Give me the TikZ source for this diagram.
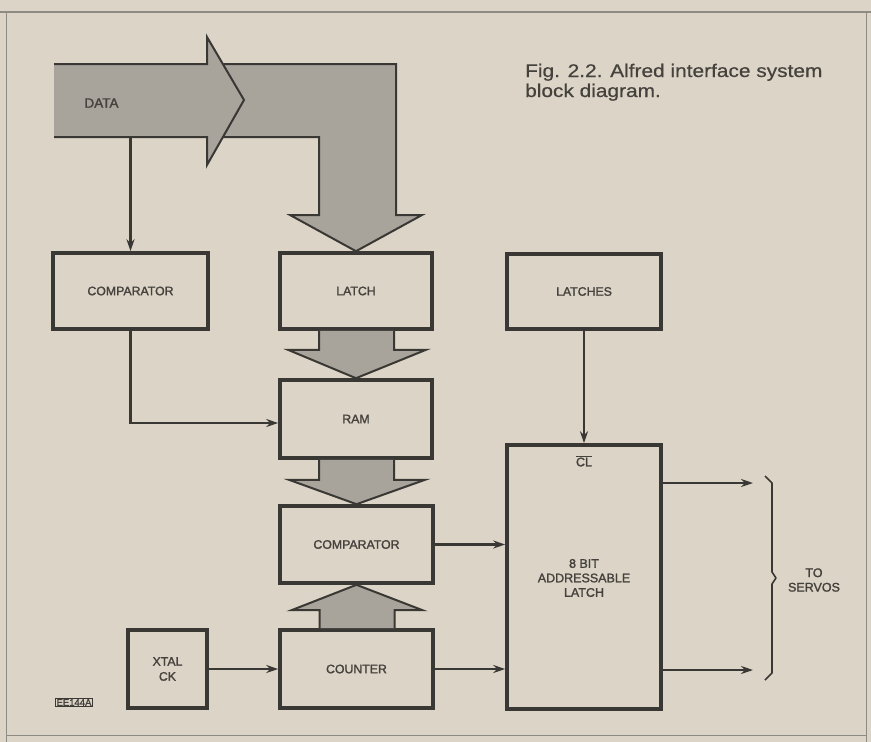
\documentclass[tikz,border=0pt]{standalone}
\usepackage{fontspec}
\setmainfont{Liberation Sans}
\newfontfamily\capfont[FakeStretch=1.14,FakeBold=0.6]{Liberation Sans}
\newfontfamily\boxfont[FakeBold=1.6]{Liberation Sans}
\usetikzlibrary{arrows.meta,calc}
\definecolor{paper}{HTML}{DCD4C6}
\definecolor{ink}{HTML}{3A3835}
\definecolor{txt}{HTML}{45423E}
\definecolor{fatgray}{HTML}{A8A39B}
\definecolor{frame}{HTML}{8E8A84}
\begin{document}
\begin{tikzpicture}[x=1pt,y=-1pt,
  blk/.style={draw=ink,line width=3.6pt,inner sep=0pt,font=\boxfont\fontsize{12.3}{15}\selectfont,text=txt,align=center},
  conn/.style={draw=ink,line width=2.2pt,-{Stealth[length=12pt,width=8pt]}},
  fat/.style={fill=fatgray,draw=ink,line width=2pt,line join=miter},
  lbl/.style={font=\boxfont\fontsize{12.5}{14.5}\selectfont,text=txt,align=center}]
\fill[paper] (0,0) rectangle (871,742);
\useasboundingbox (0,0) rectangle (871,742);
\draw[frame,line width=1.3pt] (0,12) -- (871,12);
\draw[frame,line width=1pt] (6,12) -- (6,742);
\draw[frame,line width=0.8pt] (866,12) -- (866,742);
\draw[frame,line width=0.8pt] (6,735) -- (866,735);

% caption
\node[anchor=base west,align=left,inner sep=0pt,text=txt,font=\capfont\fontsize{18.3}{20}\selectfont] (cap) at (525,97) {Fig. 2.2. Alfred interface system\\block diagram.};

% blocks
\node[blk,minimum width=155pt,minimum height=76pt] (cmp1) at (130.5,291) {COMPARATOR};
\node[blk,minimum width=152pt,minimum height=76pt] (latch) at (356,291) {LATCH};
\node[blk,minimum width=154pt,minimum height=75pt] (latches) at (584,291.5) {LATCHES};
\node[blk,minimum width=152pt,minimum height=78pt] (ram) at (356,419) {RAM};
\node[blk,minimum width=153pt,minimum height=77pt] (cmp2) at (356.5,544.5) {COMPARATOR};
\node[blk,minimum width=153pt,minimum height=78pt] (counter) at (356.5,669) {COUNTER};
\node[blk,minimum width=79pt,minimum height=78pt] (xtal) at (167.5,669) {XTAL\\CK};
\node[blk,minimum width=154pt,minimum height=264pt] (abl) at (584,577) {};
\node[lbl] (ablt) at (584,578) {8 BIT\\ADDRESSABLE\\LATCH};
\node[lbl] (cl) at (584,461) {$\overline{\hbox{CL}}$};

% big DATA arrow
\fill[fatgray] (215,64) -- (396,64) -- (396,215) -- (422,215) -- (356,252) -- (290,215) -- (319,215) -- (319,137) -- (215,137) -- cycle;
\filldraw[fat] (54,64) -- (207,64) -- (207,37) -- (244,100) -- (207,165) -- (207,137) -- (54,137);
\draw[draw=ink,line width=2pt,line join=miter] (223,64) -- (396,64) -- (396,215) -- (422,215) -- (latch.north) -- (290,215) -- (319,215) -- (319,137) -- (223,137);
\node[lbl,font=\boxfont\fontsize{13.5}{14}\selectfont] (data) at (101.5,103) {DATA};
\coordinate (dsplit) at (130.5,137);

% fat arrows between blocks
\filldraw[fat] ($(latch.south)+(-37,0)$) -- ++(0,19) -- ++(-31,0) -- (ram.north) -- ($(latch.south)+(70,19)$) -- ++(-32,0) -- ++(0,-19);
\filldraw[fat] ($(ram.south)+(-37,0)$) -- ++(0,20) -- ++(-30,0) -- (cmp2.north) -- ($(ram.south)+(69,20)$) -- ++(-31,0) -- ++(0,-20);
\filldraw[fat] ($(counter.north)+(-37,0)$) -- ++(0,-18) -- ++(-28,0) -- (cmp2.south) -- ($(counter.north)+(66,-18)$) -- ++(-28,0) -- ++(0,18);

% connectors
\draw[conn] (dsplit) -- (cmp1.north);
\draw[conn] (cmp1.south) |- ($(ram.west)+(0,4)$);
\draw[conn] (latches.south) -- (abl.north);
\draw[conn] (cmp2.east) -- (abl.west |- cmp2.east);
\draw[conn] (counter.east) -- (abl.west |- counter.east);
\draw[conn] (xtal.east) -- (counter.west);
\coordinate (o1) at (753,483);
\coordinate (o2) at (753,670);
\draw[conn] (abl.east |- o1) -- (o1);
\draw[conn] (abl.east |- o2) -- (o2);

% brace
\draw[ink,line width=1.6pt,line join=round] (765,476) -- (772,483) -- (772,572) -- (776,578) -- (772,584) -- (772,673) -- (765,680);
\node[lbl] (servos) at (814,580) {TO\\SERVOS};

% reference tag
\node[draw=ink,line width=1pt,inner sep=1.2pt,text=txt,font=\boxfont\fontsize{9.5}{10}\selectfont] (tag) at (74,702.5) {EE144A};
\end{tikzpicture}
\end{document}
